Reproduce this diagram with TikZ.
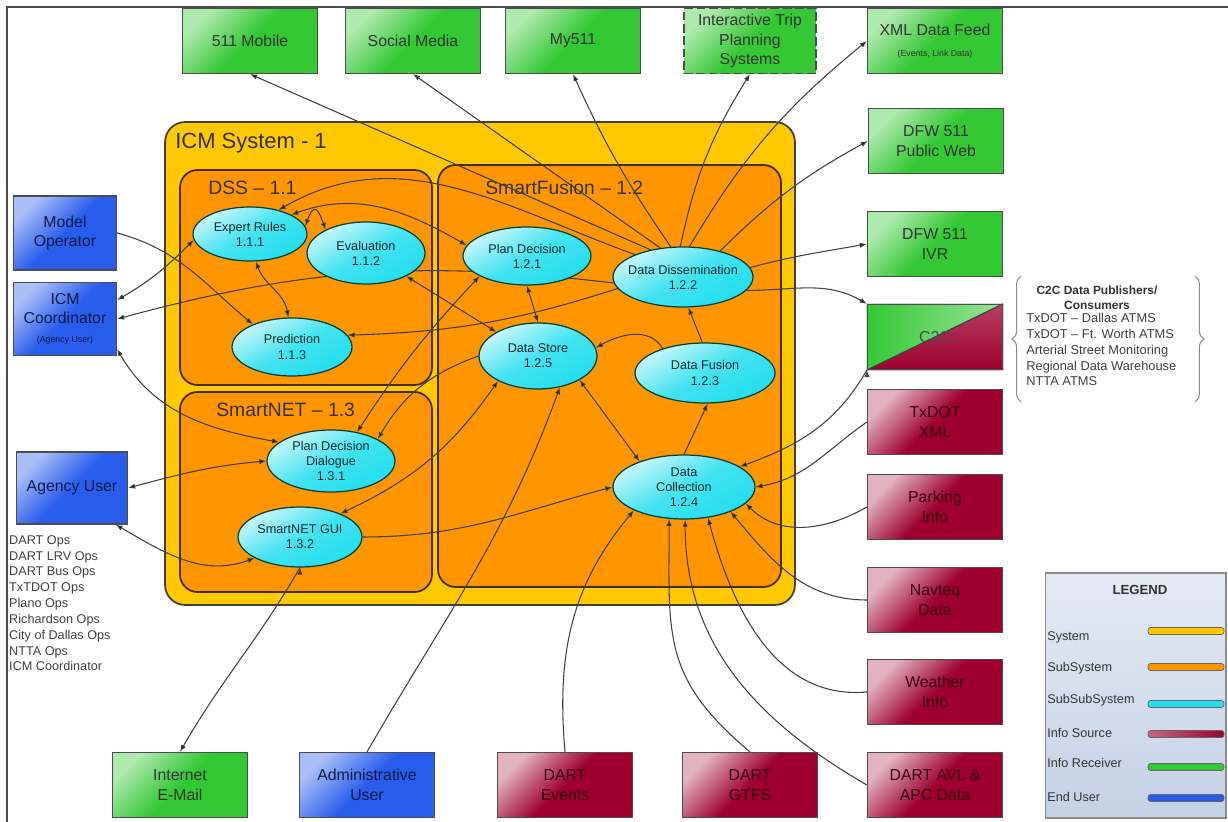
\documentclass[tikz,border=0pt]{standalone}
\usepackage{fontspec}
\setmainfont{Liberation Sans}
\usetikzlibrary{positioning, shapes.geometric, arrows.meta, decorations.pathreplacing}

\definecolor{sysyellow}{RGB}{255,200,0}
\definecolor{suborange}{RGB}{255,150,0}
\definecolor{ellcyan}{RGB}{35,222,238}
\definecolor{srcred}{RGB}{158,0,48}
\definecolor{rcvgreen}{RGB}{52,200,52}
\definecolor{userblue}{RGB}{40,92,236}
\definecolor{legtop}{RGB}{228,234,243}
\definecolor{legbot}{RGB}{196,210,230}

\pgfdeclarelayer{back}
\pgfdeclarelayer{wires}
\pgfsetlayers{back,wires,main}

\tikzset{
  box/.style={draw=black!70, line width=0.7pt, minimum width=2.7cm, minimum height=1.3cm,
    inner sep=1pt, align=center, font=\fontsize{9}{11}\selectfont},
  receiver/.style={box, top color=rcvgreen!40!white, bottom color=rcvgreen, middle color=rcvgreen,
    shading angle=45, text=black!80},
  source/.style={box, top color=srcred!30!white, bottom color=srcred, middle color=srcred,
    shading angle=45, text=srcred!35!black},
  enduser/.style={box, top color=userblue!40!white, bottom color=userblue, middle color=userblue,
    shading angle=45, text=userblue!30!black},
  func/.style={ellipse, draw=teal!50!black, line width=0.7pt, inner xsep=-6pt, inner ysep=-4pt,
    align=center, top color=ellcyan!25!white, bottom color=ellcyan, middle color=ellcyan!85!white,
    shading angle=30, text=ellcyan!20!black, font=\fontsize{7.2}{8.6}\selectfont},
  sysbox/.style={draw=black!75, line width=1pt, rounded corners=0.4cm, fill=sysyellow},
  subbox/.style={draw=black!65!brown, line width=1pt, rounded corners=0.35cm, fill=suborange},
  title/.style={anchor=west, inner sep=0pt, text=black!80, font=\fontsize{11}{13}\selectfont},
  wire/.style={->, >={Latex[length=4pt,width=3pt]}, draw=black!75, line width=0.6pt},
  legbar/.style={draw=black!60, rounded corners=1.5pt, minimum width=1.52cm, minimum height=0.14cm,
    inner sep=0pt},
  legtext/.style={anchor=west, inner sep=0pt, font=\fontsize{7.2}{8.6}\selectfont, text=black!80},
  listtext/.style={inner sep=0pt, align=left, text=black!75, font=\fontsize{7.2}{9}\selectfont}
}

\begin{document}
\begin{tikzpicture}[x=0.02cm, y=0.02cm]
\useasboundingbox (0,0) rectangle (1228,822);
\draw[black!70, line width=0.6pt] (7,0) -- (7,815) -- (1228,815);

% system and subsystems
\begin{pgfonlayer}{back}
  \node[sysbox, minimum width=12.6cm, minimum height=9.66cm] (sys) at (480,458.5) {};
  \node[subbox, minimum width=5.04cm, minimum height=4.3cm] (dss) at (306,544.5) {};
  \node[subbox, minimum width=6.86cm, minimum height=8.44cm] (sf) at (609.5,446) {};
  \node[subbox, minimum width=5.04cm, minimum height=4cm] (snet) at (306,330) {};
  \node[title, font=\fontsize{12.5}{14}\selectfont] (systitle) at (175,679) {ICM System - 1};
  \node[title] (dsstitle) at (208,634) {DSS – 1.1};
  \node[title] (sftitle) at (485,634) {SmartFusion – 1.2};
  \node[title] (snettitle) at (216,412) {SmartNET – 1.3};
\end{pgfonlayer}

% functions
\node[func, minimum width=2.28cm, minimum height=1.08cm] (er) at (250,588) {Expert Rules\\1.1.1};
\node[func, minimum width=2.36cm, minimum height=1.24cm] (ev) at (366,569) {Evaluation\\1.1.2};
\node[func, minimum width=2.4cm, minimum height=1.16cm] (pr) at (292,475) {Prediction\\1.1.3};
\node[func, minimum width=2.56cm, minimum height=1.16cm] (pd) at (527,566) {Plan Decision\\1.2.1};
\node[func, minimum width=2.8cm, minimum height=1.2cm] (dd) at (683,545) {Data Dissemination\\1.2.2};
\node[func, minimum width=2.36cm, minimum height=1.32cm] (ds) at (538,466) {Data Store\\1.2.5};
\node[func, minimum width=2.8cm, minimum height=1.2cm] (df) at (705,449) {Data Fusion\\1.2.3};
\node[func, minimum width=2.84cm, minimum height=1.28cm] (dc) at (684,335) {Data\\Collection\\1.2.4};
\node[func, minimum width=2.56cm, minimum height=1.24cm] (pdd) at (331,361) {Plan Decision\\Dialogue\\1.3.1};
\node[func, minimum width=2.48cm, minimum height=1.2cm] (gui) at (300,285) {SmartNET GUI\\1.3.2};

% receivers
\node[receiver] (m511) at (250,781) {511 Mobile};
\node[receiver] (social) at (413,781) {Social Media};
\node[receiver] (my511) at (573,781) {My511};
\node[receiver, dash pattern=on 5pt off 2pt, minimum width=2.64cm] (itps) at (750,781) {Interactive Trip\\Planning\\Systems};
\node[receiver] (xmlfeed) at (935,781) {XML Data Feed\\[1pt]{\fontsize{5}{6}\selectfont (Events, Link Data)}};
\node[receiver] (web) at (936,681) {DFW 511\\Public Web};
\node[receiver] (ivr) at (935,578) {DFW 511\\IVR};
\node[receiver] (email) at (180,37) {Internet\\E-Mail};

% C2C, half receiver half source
\node[box, text=black!70] (c2c) at (935,485) {C2C};
\begin{pgfonlayer}{back}
  \fill[left color=rcvgreen, right color=rcvgreen!50!white] (c2c.south west) -- (c2c.north west) -- (c2c.north east) -- cycle;
  \fill[top color=srcred!75!white, bottom color=srcred] (c2c.south west) -- (c2c.north east) -- (c2c.south east) -- cycle;
\end{pgfonlayer}

% sources
\node[source] (txdot) at (935,400) {TxDOT\\XML};
\node[source] (parking) at (935,315) {Parking\\Info};
\node[source] (navteq) at (935,222) {Navteq\\Data};
\node[source] (weather) at (935,130) {Weather\\Info};
\node[source] (avl) at (935,37) {DART AVL \&\\APC Data};
\node[source] (gtfs) at (750,37) {DART\\GTFS};
\node[source] (events) at (565,37) {DART\\Events};

% end users
\node[enduser] (admin) at (367,37) {Administrative\\User};
\node[enduser, minimum width=2.06cm, minimum height=1.48cm] (modelop) at (65,589) {Model\\Operator};
\node[enduser, minimum width=2.06cm, minimum height=1.46cm] (icmcoord) at (65,503) {ICM\\Coordinator\\{\fontsize{5}{6}\selectfont (Agency User)}};
\node[enduser, minimum width=2.22cm, minimum height=1.44cm] (agency) at (72,334) {Agency User};
\node[listtext, below=6pt of agency.south west, anchor=north west, xshift=-0.14cm] (agencylist)
  {DART Ops\\DART LRV Ops\\DART Bus Ops\\TxTDOT Ops\\Plano Ops\\Richardson Ops\\City of Dallas Ops\\NTTA Ops\\ICM Coordinator};

% C2C partners
\draw[black!45, line width=0.6pt, decorate, decoration={brace, amplitude=5pt}] (1021,420) -- (1021,546);
\draw[black!45, line width=0.6pt, decorate, decoration={brace, amplitude=5pt}] (1195,546) -- (1195,420);
\node[inner sep=0pt, align=center, text=black!80, font=\bfseries\fontsize{6.8}{8.5}\selectfont] (c2chead) at (1097,524) {C2C Data Publishers/\\Consumers};
\node[listtext, anchor=north west, font=\fontsize{7.3}{9}\selectfont] (c2clist) at (1026,509)
  {TxDOT – Dallas ATMS\\TxDOT – Ft. Worth ATMS\\Arterial Street Monitoring\\Regional Data Warehouse\\NTTA ATMS};

% legend
\node[draw=black!45, line width=0.6pt, top color=legtop, bottom color=legbot, minimum width=3.62cm, minimum height=4.9cm] (legend) at (1135.5,126.5) {};
\node[text=black!80, font=\bfseries\fontsize{7.5}{9}\selectfont] (legtitle) at (1140,232) {LEGEND};
\node[legtext] (lsys) at (1047,185) {System};
\node[legtext] (lsub) at (1047,154) {SubSystem};
\node[legtext] (lsubsub) at (1047,122) {SubSubSystem};
\node[legtext] (lsrc) at (1047,89) {Info Source};
\node[legtext] (lrcv) at (1047,59) {Info Receiver};
\node[legtext] (luser) at (1047,25) {End User};
\node[legbar, fill=sysyellow] (bsys) at (1186,191) {};
\node[legbar, fill=suborange] (bsub) at (1186,155) {};
\node[legbar, fill=ellcyan] (bsubsub) at (1186,118) {};
\node[legbar, left color=srcred!60!white, right color=srcred] (bsrc) at (1186,88) {};
\node[legbar, fill=rcvgreen] (brcv) at (1186,55) {};
\node[legbar, fill=userblue] (buser) at (1186,24) {};

\begin{pgfonlayer}{wires}
  \draw[black!75, line width=0.7pt] (c2c.south west) -- (c2c.north east);
  % dissemination
  \path[wire]
    (dd.140) edge (m511.south)
    (dd.128) edge (social.south)
    (dd.112) edge[bend left=5] (my511.south)
    (dd.95) edge[bend left=10] (itps.south)
    (dd.78) edge[bend left=10] (xmlfeed.west)
    (dd.35) edge[bend left=8] (web.west)
    (dd.8) edge[out=15, in=190] (ivr.west)
    (dd.-12) edge[out=0, in=150] (c2c.north west)
    (dd.185) edge[bend right=11] (icmcoord.east)
    (dd.190) edge[bend left=8] (pr.12)
    (dd.155) edge[out=160, in=30] (er.40);
  % decision support
  \path[wire]
    (er.25) edge[<->, out=20, in=150] (pd.170)
    (er.8) edge[<->, out=70, in=110, looseness=3] (ev.150)
    (er.-78) edge[<->, out=-70, in=100] (pr.97)
    (modelop.east) edge[out=-15, in=140] (pr.150)
    (er.186) edge[<->, out=225, in=30] (icmcoord.20)
    (icmcoord.-30) edge[<->, out=-60, in=170] (pdd.160)
    (agency.east) edge[<->, out=15, in=185] (pdd.west)
    (agency.-40) edge[<->, out=-30, in=200] (gui.205)
    (pd.203) edge[<->, bend right=5] (pdd.48)
    (ds.180) edge[out=200, in=60] (pdd.25)
    (ds.212) edge[<->, bend left=15] (gui.30)
    (gui.east) edge[out=0, in=195] (dc.west)
    (ev.-30) edge[<->] (ds.150)
    (pd.south) edge[<->] (ds.north)
    (ds.-30) edge[<->] (dc.150)
    (df.150) edge[out=120, in=30] (ds.8)
    (df.95) edge (dd.-80)
    (dc.north) edge (df.-85)
    (gui.south) edge[out=-120, in=60] (email.north);
  % collection
  \path[wire]
    (admin.north) edge[out=60, in=-110] (ds.-55)
    (events.north) edge[out=95, in=230] (dc.205)
    (gtfs.north) edge[out=140, in=-90, looseness=1.2] (dc.-115)
    (avl.west) edge[out=150, in=-90] (dc.-88)
    (weather.west) edge[out=185, in=-75] (dc.-52)
    (navteq.west) edge[out=180, in=-50] (dc.-28)
    (parking.west) edge[out=210, in=-45] (dc.-15)
    (txdot.west) edge[out=215, in=10] (dc.east)
    (c2c.south west) edge[out=240, in=20] (dc.20);
\end{pgfonlayer}
\end{tikzpicture}
\end{document}
